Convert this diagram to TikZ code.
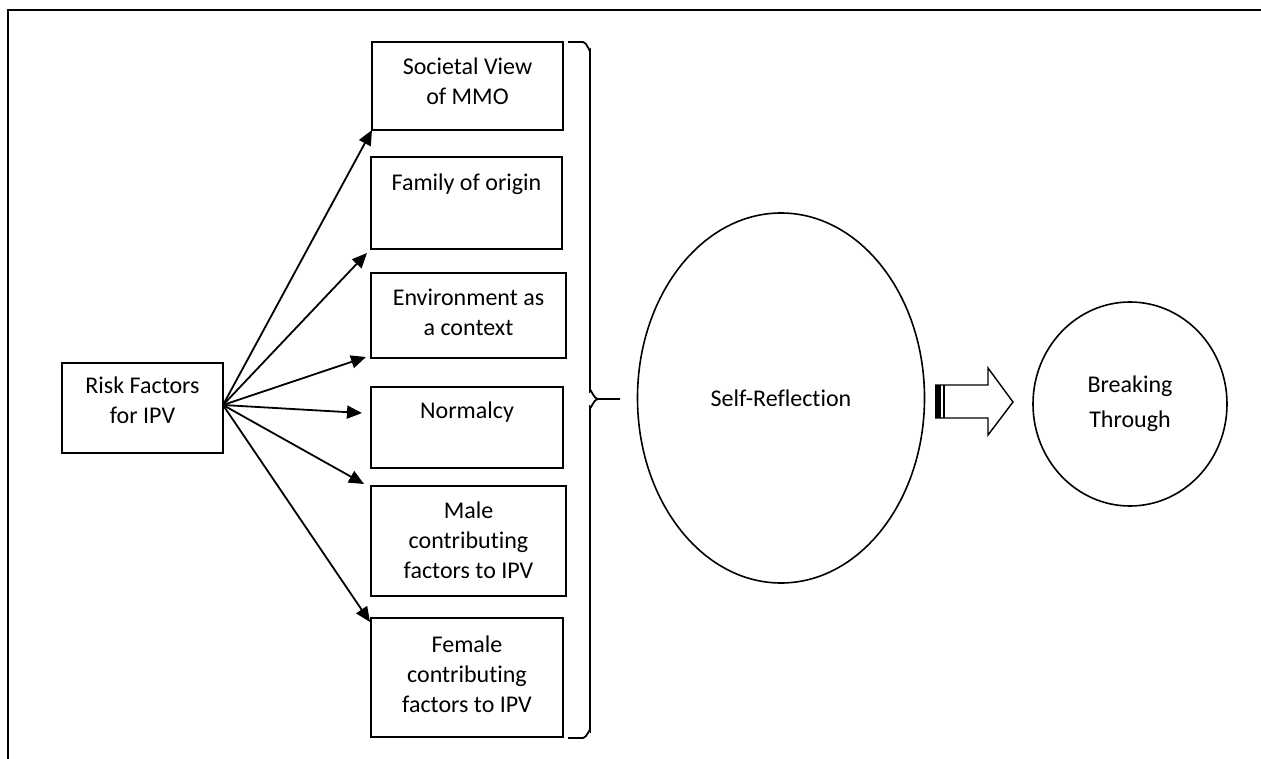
\documentclass[tikz,border=0pt]{standalone}
\usepackage{fontspec}
\setmainfont{Carlito}[Ligatures=NoCommon]
\usetikzlibrary{arrows.meta,calc,shapes.geometric}
\begin{document}
\begin{tikzpicture}[x=1pt,y=-1pt,
  box/.style={draw, line width=2pt, rectangle, inner sep=0pt, outer sep=0pt, anchor=north west},
  lbl/.style={anchor=north, inner sep=0pt, align=center, font=\fontsize{24}{30}\selectfont},
  arr/.style={line width=1.8pt, -{Triangle[length=15pt,width=13pt]}},
  oval/.style={draw, ellipse, line width=1.6pt, inner sep=0pt, align=center},
  ]
\useasboundingbox (0,0) rectangle (1261,759);
\draw[line width=2pt] (7.5,759) -- (7.5,10.5) -- (1261,10.5);

% left box
\node[box, minimum width=161pt, minimum height=90pt] (risk) at (62,363) {};
\node[lbl] (risktxt) at ($(risk.north)+(0,11)$) {\rule{0pt}{19pt}Risk Factors\\for IPV};

% factor boxes
\node[box, minimum width=191pt, minimum height=88pt]  (b1) at (372,42) {};
\node[box, minimum width=191pt, minimum height=92pt]  (b2) at (371,157) {};
\node[box, minimum width=195pt, minimum height=85pt]  (b3) at (371,273) {};
\node[box, minimum width=192pt, minimum height=81pt]  (b4) at (371,387) {};
\node[box, minimum width=195pt, minimum height=110pt] (b5) at (371,486) {};
\node[box, minimum width=192pt, minimum height=119pt] (b6) at (371,618) {};

\node[lbl] (t1) at ($(b1.north)+(0,13)$) {\rule{0pt}{19pt}Societal View\\of MMO};
\node[lbl] (t2) at ($(b2.north)+(0,14)$) {\rule{0pt}{19pt}Family of origin};
\node[lbl] (t3) at ($(b3.north)+(0,13)$) {\rule{0pt}{19pt}Environment as\\a context};
\node[lbl] (t4) at ($(b4.north)+(0,12)$) {\rule{0pt}{19pt}Normalcy};
\node[lbl] (t5) at ($(b5.north)+(0,13)$) {\rule{0pt}{19pt}Male\\contributing\\factors to IPV};
\node[lbl] (t6) at ($(b6.north)+(0,15)$) {\rule{0pt}{19pt}Female\\contributing\\factors to IPV};

% arrows
\coordinate (src) at ($(risk.east)+(0,-3)$);
\draw[arr] (src) -- (b1.south west);
\draw[arr] (src) -- ($(b2.south west)+(-4,4)$);
\draw[arr] (src) -- ($(b3.south west)+(-5,-1)$);
\draw[arr] (src) -- ($(b4.north west)+(-9,26)$);
\draw[arr] (src) -- ($(b5.north west)+(-7,-2)$);
\draw[arr] (src) -- ($(b6.north west)+(-1,4)$);

% brace
\draw[line width=1.8pt] (568,42) -- (583,42) to[out=0,in=-90] (590,50)
  -- (590,391) to[out=90,in=180] (598,399) -- (620,399);
\draw[line width=1.8pt] (598,399) to[out=180,in=-90] (590,407)
  -- (590,731) to[out=90,in=0] (583,738) -- (568,738);

% ovals
\node[oval, minimum width=287pt, minimum height=370pt, font=\fontsize{24}{30}\selectfont] (sr) at (781,398) {Self-Reflection};
\node[oval, minimum width=194pt, minimum height=204pt, font=\fontsize{24}{35}\selectfont] (bt) at (1130,404) {Breaking\\Through};

% striped block arrow
\fill (935,385) rectangle (940.5,418);
\draw[line width=1.4pt] (944,385) -- (944,418);
\draw[line width=1.4pt, line join=miter] (935,385) -- (988,385) -- (988,368) -- (1013,402)
  -- (988,435) -- (988,418) -- (935,418);
\end{tikzpicture}
\end{document}
